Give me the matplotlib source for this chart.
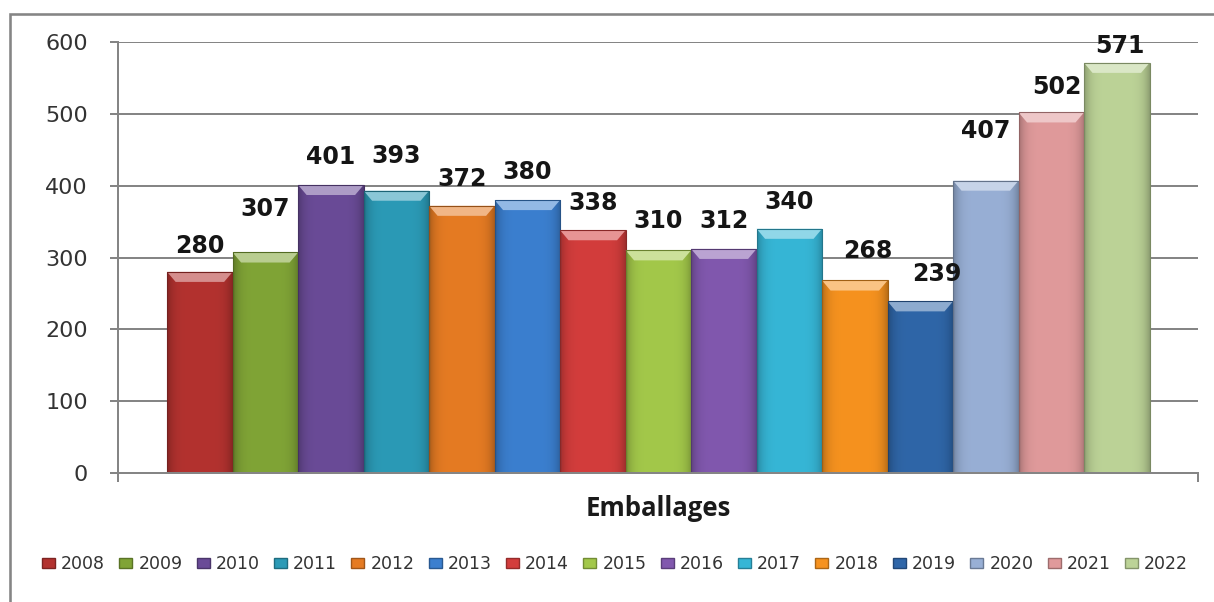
import numpy as np
import matplotlib
matplotlib.use("Agg")
import matplotlib.pyplot as plt
from matplotlib.patches import Patch, Rectangle, Polygon
from matplotlib.colors import to_rgb

# ---------------- data ----------------
years = ["2008", "2009", "2010", "2011", "2012", "2013", "2014", "2015",
         "2016", "2017", "2018", "2019", "2020", "2021", "2022"]
values = [280, 307, 401, 393, 372, 380, 338, 310, 312, 340, 268, 239, 407, 502, 571]
category = "Emballages"
yticks = [0, 100, 200, 300, 400, 500, 600]

# ---------------- style ----------------
colors = ["#b3322f", "#80a436", "#6a4b97", "#2b9ab6", "#e57b23", "#3b7fcf",
          "#d33d3c", "#a3c84a", "#8158ae", "#36b6d6", "#f6921f", "#2f66a8",
          "#98afd5", "#e09a9b", "#bcd397"]
# label nudges (pixels) to mimic the reference label placement
label_dy_px = [26, 43, 28, 35, 27, 28, 27, 29, 28, 27, 29, 27, 50, 25, 17]
label_dx_px = [0, 0, 0, 0, 0, 0, 0, 0, 0, 0, 13, 17, 0, 6, 3]

W, H, DPI = 1214, 602, 100
fig = plt.figure(figsize=(W / DPI, H / DPI), dpi=DPI)
fig.patch.set_facecolor("white")

grey = "#858585"
px2pt = 72.0 / DPI

# outer frame (cropped at right / bottom like in the reference)
fig.add_artist(Rectangle((10 / W, -0.2), 1.2, 1.2 - 14 / H,
                         transform=fig.transFigure, fill=False,
                         edgecolor=grey, linewidth=2.6 * px2pt))

ax = fig.add_axes([118 / W, 1 - 473 / H, (1198 - 118) / W, (473 - 42) / H])
ax.set_facecolor("white")

n = len(values)
x = np.arange(n)
xlim = (-1.25, n - 1 + 1.24)
ylim = (0, 600)

bars = ax.bar(x, values, width=1.0, color=colors, edgecolor="none", zorder=3)

# bevel-like shading
g = np.linspace(0, 1, 80)
shade = 1.0 - 0.25 * np.abs(2 * g - 1) ** 5
for rect, c in zip(bars, colors):
    base = np.array(to_rgb(c))
    x0, y0 = rect.get_x(), rect.get_y()
    w, h = rect.get_width(), rect.get_height()
    arr = np.clip(base[None, None, :] * shade[None, :, None], 0, 1)
    arr = np.repeat(arr, 2, axis=0)
    im = ax.imshow(arr, extent=[x0, x0 + w, y0, y0 + h], aspect="auto",
                   origin="lower", zorder=3.1, interpolation="bilinear")
    im.set_clip_path(rect)
    # darker edges
    ax.add_patch(Rectangle((x0, y0), w, h, fill=False,
                           edgecolor=tuple(base * 0.65), linewidth=0.8, zorder=3.3))
    # top bevel highlight
    dx, dy = 0.13, 14
    top = y0 + h
    light = tuple(np.clip(base + (1 - base) * 0.45, 0, 1))
    ax.add_patch(Polygon([(x0, top), (x0 + w, top), (x0 + w - dx, top - dy),
                          (x0 + dx, top - dy)], closed=True, facecolor=light,
                         edgecolor="none", zorder=3.2))

ax.set_xlim(*xlim)
ax.set_ylim(*ylim)

# data labels
for i, v in enumerate(values):
    ax.annotate(str(v), (x[i], v),
                xytext=(label_dx_px[i] * px2pt, label_dy_px[i] * px2pt),
                textcoords="offset points", ha="center", va="center",
                fontsize=17, fontweight="bold", color="#151515",
                family="DejaVu Sans", zorder=5)

# axes styling
ax.set_yticks(yticks)
ax.set_yticklabels([str(t) for t in yticks])
ax.yaxis.grid(True, color=grey, linewidth=2 * px2pt)
ax.set_axisbelow(True)
ax.tick_params(axis="y", length=8 * px2pt, width=2 * px2pt, color=grey,
               pad=22 * px2pt, labelsize=16, labelcolor="#333333")
ax.set_xticks([xlim[0], xlim[1]])
ax.set_xticklabels(["", ""])
ax.tick_params(axis="x", length=9 * px2pt, width=2 * px2pt, color=grey)
for s in ["top", "right"]:
    ax.spines[s].set_visible(False)
for s in ["left", "bottom"]:
    ax.spines[s].set_color(grey)
    ax.spines[s].set_linewidth(2 * px2pt)
    ax.spines[s].set_zorder(4)

fig.text((585 + 732) / 2 / W, 1 - 509 / H, category, ha="center", va="center",
         fontsize=18.5, fontweight="bold", family="Open Sans", color="#1a1a1a")

handles = [Patch(facecolor=c, edgecolor=tuple(np.array(to_rgb(c)) * 0.7)) for c in colors]
leg = fig.legend(handles, years, loc="center", bbox_to_anchor=(615 / W, 1 - 564 / H),
                 ncol=n, frameon=False, fontsize=12.5, handlelength=0.75,
                 handleheight=0.55, handletextpad=0.35, columnspacing=0.82,
                 borderpad=0, borderaxespad=0)
for t in leg.get_texts():
    t.set_color("#333333")

fig.savefig("out.png", dpi=DPI, facecolor="white")
